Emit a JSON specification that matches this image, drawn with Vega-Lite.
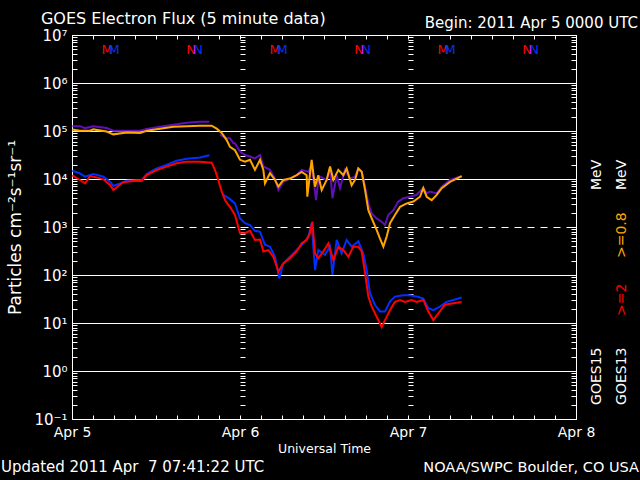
{
  "$schema": "https://vega.github.io/schema/vega-lite/v6.json",
  "width": 504,
  "height": 384,
  "autosize": {"type": "none"},
  "padding": {"left": 72, "top": 35, "right": 64, "bottom": 61},
  "background": "black",
  "config": {
    "view": {"stroke": null},
    "font": "DejaVu Sans",
    "axis": {
      "domainColor": "white", "tickColor": "white", "labelColor": "white", "titleColor": "white",
      "gridColor": "white", "labelFont": "DejaVu Sans", "titleFont": "DejaVu Sans",
      "titleFontWeight": "normal", "domainWidth": 1, "tickWidth": 1
    }
  },
  "resolve": {"axis": {"x": "independent", "y": "independent"}, "scale": {"color": "independent"}},
  "datasets": {
    "flux": [
      {"time": "2011-04-05T00:03Z", "series": "GOES15 >=0.8 MeV", "flux": 126000},
      {"time": "2011-04-05T01:08Z", "series": "GOES15 >=0.8 MeV", "flux": 126000},
      {"time": "2011-04-05T01:52Z", "series": "GOES15 >=0.8 MeV", "flux": 115000},
      {"time": "2011-04-05T03:03Z", "series": "GOES15 >=0.8 MeV", "flux": 126000},
      {"time": "2011-04-05T04:57Z", "series": "GOES15 >=0.8 MeV", "flux": 115000},
      {"time": "2011-04-05T05:54Z", "series": "GOES15 >=0.8 MeV", "flux": 101000},
      {"time": "2011-04-05T07:49Z", "series": "GOES15 >=0.8 MeV", "flux": 101000},
      {"time": "2011-04-05T09:43Z", "series": "GOES15 >=0.8 MeV", "flux": 101000},
      {"time": "2011-04-05T10:40Z", "series": "GOES15 >=0.8 MeV", "flux": 110000},
      {"time": "2011-04-05T12:34Z", "series": "GOES15 >=0.8 MeV", "flux": 123000},
      {"time": "2011-04-05T14:29Z", "series": "GOES15 >=0.8 MeV", "flux": 135000},
      {"time": "2011-04-05T16:23Z", "series": "GOES15 >=0.8 MeV", "flux": 148000},
      {"time": "2011-04-05T18:17Z", "series": "GOES15 >=0.8 MeV", "flux": 155000},
      {"time": "2011-04-05T19:37Z", "series": "GOES15 >=0.8 MeV", "flux": 155000},
      {"time": "2011-04-05T20:26Z", "series": "GOES15 >=0.8 MeV", "flux": null},
      {"time": "2011-04-05T21:08Z", "series": "GOES15 >=0.8 MeV", "flux": 83200},
      {"time": "2011-04-05T22:06Z", "series": "GOES15 >=0.8 MeV", "flux": 70800},
      {"time": "2011-04-05T22:34Z", "series": "GOES15 >=0.8 MeV", "flux": 70800},
      {"time": "2011-04-05T23:03Z", "series": "GOES15 >=0.8 MeV", "flux": 56200},
      {"time": "2011-04-05T23:17Z", "series": "GOES15 >=0.8 MeV", "flux": 55000},
      {"time": "2011-04-06T00:00Z", "series": "GOES15 >=0.8 MeV", "flux": 37200},
      {"time": "2011-04-06T00:43Z", "series": "GOES15 >=0.8 MeV", "flux": 31600},
      {"time": "2011-04-06T01:26Z", "series": "GOES15 >=0.8 MeV", "flux": 29500},
      {"time": "2011-04-06T02:08Z", "series": "GOES15 >=0.8 MeV", "flux": 26900},
      {"time": "2011-04-06T02:52Z", "series": "GOES15 >=0.8 MeV", "flux": 31600},
      {"time": "2011-04-06T03:20Z", "series": "GOES15 >=0.8 MeV", "flux": 18200},
      {"time": "2011-04-06T04:17Z", "series": "GOES15 >=0.8 MeV", "flux": 15500},
      {"time": "2011-04-06T05:00Z", "series": "GOES15 >=0.8 MeV", "flux": 10200},
      {"time": "2011-04-06T05:29Z", "series": "GOES15 >=0.8 MeV", "flux": 5890},
      {"time": "2011-04-06T06:11Z", "series": "GOES15 >=0.8 MeV", "flux": 8710},
      {"time": "2011-04-06T07:08Z", "series": "GOES15 >=0.8 MeV", "flux": 10200},
      {"time": "2011-04-06T08:06Z", "series": "GOES15 >=0.8 MeV", "flux": 12000},
      {"time": "2011-04-06T08:49Z", "series": "GOES15 >=0.8 MeV", "flux": 15500},
      {"time": "2011-04-06T09:46Z", "series": "GOES15 >=0.8 MeV", "flux": 14100},
      {"time": "2011-04-06T10:14Z", "series": "GOES15 >=0.8 MeV", "flux": 20000},
      {"time": "2011-04-06T10:52Z", "series": "GOES15 >=0.8 MeV", "flux": 3630},
      {"time": "2011-04-06T11:11Z", "series": "GOES15 >=0.8 MeV", "flux": 9550},
      {"time": "2011-04-06T11:26Z", "series": "GOES15 >=0.8 MeV", "flux": 11200},
      {"time": "2011-04-06T12:23Z", "series": "GOES15 >=0.8 MeV", "flux": 9550},
      {"time": "2011-04-06T12:52Z", "series": "GOES15 >=0.8 MeV", "flux": 16600},
      {"time": "2011-04-06T13:12Z", "series": "GOES15 >=0.8 MeV", "flux": 3980},
      {"time": "2011-04-06T13:49Z", "series": "GOES15 >=0.8 MeV", "flux": 12000},
      {"time": "2011-04-06T14:17Z", "series": "GOES15 >=0.8 MeV", "flux": 6460},
      {"time": "2011-04-06T15:00Z", "series": "GOES15 >=0.8 MeV", "flux": 15500},
      {"time": "2011-04-06T15:43Z", "series": "GOES15 >=0.8 MeV", "flux": 10200},
      {"time": "2011-04-06T16:26Z", "series": "GOES15 >=0.8 MeV", "flux": 11200},
      {"time": "2011-04-06T16:54Z", "series": "GOES15 >=0.8 MeV", "flux": 16600},
      {"time": "2011-04-06T17:23Z", "series": "GOES15 >=0.8 MeV", "flux": 14100},
      {"time": "2011-04-06T17:52Z", "series": "GOES15 >=0.8 MeV", "flux": 6920},
      {"time": "2011-04-06T18:20Z", "series": "GOES15 >=0.8 MeV", "flux": 3090},
      {"time": "2011-04-06T18:49Z", "series": "GOES15 >=0.8 MeV", "flux": 1910},
      {"time": "2011-04-06T19:31Z", "series": "GOES15 >=0.8 MeV", "flux": 1510},
      {"time": "2011-04-06T20:14Z", "series": "GOES15 >=0.8 MeV", "flux": 1290},
      {"time": "2011-04-06T20:43Z", "series": "GOES15 >=0.8 MeV", "flux": 1100},
      {"time": "2011-04-06T21:11Z", "series": "GOES15 >=0.8 MeV", "flux": 1780},
      {"time": "2011-04-06T21:54Z", "series": "GOES15 >=0.8 MeV", "flux": 2240},
      {"time": "2011-04-06T22:37Z", "series": "GOES15 >=0.8 MeV", "flux": 3390},
      {"time": "2011-04-06T23:20Z", "series": "GOES15 >=0.8 MeV", "flux": 3980},
      {"time": "2011-04-07T00:17Z", "series": "GOES15 >=0.8 MeV", "flux": 4270},
      {"time": "2011-04-07T01:14Z", "series": "GOES15 >=0.8 MeV", "flux": 4680},
      {"time": "2011-04-07T02:11Z", "series": "GOES15 >=0.8 MeV", "flux": 6460},
      {"time": "2011-04-07T02:40Z", "series": "GOES15 >=0.8 MeV", "flux": 5010},
      {"time": "2011-04-07T03:08Z", "series": "GOES15 >=0.8 MeV", "flux": 5500},
      {"time": "2011-04-07T04:06Z", "series": "GOES15 >=0.8 MeV", "flux": 5010},
      {"time": "2011-04-07T04:49Z", "series": "GOES15 >=0.8 MeV", "flux": 6920},
      {"time": "2011-04-07T06:00Z", "series": "GOES15 >=0.8 MeV", "flux": 9550},
      {"time": "2011-04-07T06:57Z", "series": "GOES15 >=0.8 MeV", "flux": 10700},
      {"time": "2011-04-07T07:40Z", "series": "GOES15 >=0.8 MeV", "flux": 11500},

      {"time": "2011-04-05T00:03Z", "series": "GOES15 >=2 MeV", "flux": 14900},
      {"time": "2011-04-05T01:08Z", "series": "GOES15 >=2 MeV", "flux": 13100},
      {"time": "2011-04-05T01:52Z", "series": "GOES15 >=2 MeV", "flux": 11200},
      {"time": "2011-04-05T03:03Z", "series": "GOES15 >=2 MeV", "flux": 12700},
      {"time": "2011-04-05T04:29Z", "series": "GOES15 >=2 MeV", "flux": 11200},
      {"time": "2011-04-05T05:26Z", "series": "GOES15 >=2 MeV", "flux": 8790},
      {"time": "2011-04-05T05:54Z", "series": "GOES15 >=2 MeV", "flux": 7140},
      {"time": "2011-04-05T06:52Z", "series": "GOES15 >=2 MeV", "flux": 8130},
      {"time": "2011-04-05T07:49Z", "series": "GOES15 >=2 MeV", "flux": 9230},
      {"time": "2011-04-05T09:57Z", "series": "GOES15 >=2 MeV", "flux": 9530},
      {"time": "2011-04-05T10:40Z", "series": "GOES15 >=2 MeV", "flux": 12700},
      {"time": "2011-04-05T12:06Z", "series": "GOES15 >=2 MeV", "flux": 16700},
      {"time": "2011-04-05T13:31Z", "series": "GOES15 >=2 MeV", "flux": 19600},
      {"time": "2011-04-05T14:57Z", "series": "GOES15 >=2 MeV", "flux": 24100},
      {"time": "2011-04-05T16:23Z", "series": "GOES15 >=2 MeV", "flux": 26500},
      {"time": "2011-04-05T18:17Z", "series": "GOES15 >=2 MeV", "flux": 28200},
      {"time": "2011-04-05T19:37Z", "series": "GOES15 >=2 MeV", "flux": 31100},
      {"time": "2011-04-05T20:26Z", "series": "GOES15 >=2 MeV", "flux": null},
      {"time": "2011-04-05T21:37Z", "series": "GOES15 >=2 MeV", "flux": 4650},
      {"time": "2011-04-05T22:34Z", "series": "GOES15 >=2 MeV", "flux": 3800},
      {"time": "2011-04-05T23:17Z", "series": "GOES15 >=2 MeV", "flux": 3090},
      {"time": "2011-04-06T00:00Z", "series": "GOES15 >=2 MeV", "flux": 1510},
      {"time": "2011-04-06T00:43Z", "series": "GOES15 >=2 MeV", "flux": 1200},
      {"time": "2011-04-06T01:26Z", "series": "GOES15 >=2 MeV", "flux": 1100},
      {"time": "2011-04-06T02:08Z", "series": "GOES15 >=2 MeV", "flux": 832},
      {"time": "2011-04-06T02:52Z", "series": "GOES15 >=2 MeV", "flux": 794},
      {"time": "2011-04-06T03:34Z", "series": "GOES15 >=2 MeV", "flux": 427},
      {"time": "2011-04-06T04:17Z", "series": "GOES15 >=2 MeV", "flux": 389},
      {"time": "2011-04-06T05:00Z", "series": "GOES15 >=2 MeV", "flux": 240},
      {"time": "2011-04-06T05:37Z", "series": "GOES15 >=2 MeV", "flux": 85},
      {"time": "2011-04-06T06:11Z", "series": "GOES15 >=2 MeV", "flux": 174},
      {"time": "2011-04-06T07:08Z", "series": "GOES15 >=2 MeV", "flux": 240},
      {"time": "2011-04-06T08:06Z", "series": "GOES15 >=2 MeV", "flux": 331},
      {"time": "2011-04-06T09:03Z", "series": "GOES15 >=2 MeV", "flux": 457},
      {"time": "2011-04-06T09:46Z", "series": "GOES15 >=2 MeV", "flux": 631},
      {"time": "2011-04-06T10:14Z", "series": "GOES15 >=2 MeV", "flux": 1200},
      {"time": "2011-04-06T10:43Z", "series": "GOES15 >=2 MeV", "flux": 126},
      {"time": "2011-04-06T11:11Z", "series": "GOES15 >=2 MeV", "flux": 331},
      {"time": "2011-04-06T12:08Z", "series": "GOES15 >=2 MeV", "flux": 263},
      {"time": "2011-04-06T12:52Z", "series": "GOES15 >=2 MeV", "flux": 389},
      {"time": "2011-04-06T13:12Z", "series": "GOES15 >=2 MeV", "flux": 100},
      {"time": "2011-04-06T13:49Z", "series": "GOES15 >=2 MeV", "flux": 537},
      {"time": "2011-04-06T14:31Z", "series": "GOES15 >=2 MeV", "flux": 282},
      {"time": "2011-04-06T15:14Z", "series": "GOES15 >=2 MeV", "flux": 537},
      {"time": "2011-04-06T15:57Z", "series": "GOES15 >=2 MeV", "flux": 389},
      {"time": "2011-04-06T16:54Z", "series": "GOES15 >=2 MeV", "flux": 501},
      {"time": "2011-04-06T17:37Z", "series": "GOES15 >=2 MeV", "flux": 282},
      {"time": "2011-04-06T18:06Z", "series": "GOES15 >=2 MeV", "flux": 126},
      {"time": "2011-04-06T18:34Z", "series": "GOES15 >=2 MeV", "flux": 41.7},
      {"time": "2011-04-06T19:17Z", "series": "GOES15 >=2 MeV", "flux": 23.7},
      {"time": "2011-04-06T20:00Z", "series": "GOES15 >=2 MeV", "flux": 17.4},
      {"time": "2011-04-06T20:43Z", "series": "GOES15 >=2 MeV", "flux": 17.4},
      {"time": "2011-04-06T21:26Z", "series": "GOES15 >=2 MeV", "flux": 28.2},
      {"time": "2011-04-06T22:08Z", "series": "GOES15 >=2 MeV", "flux": 35.5},
      {"time": "2011-04-06T23:20Z", "series": "GOES15 >=2 MeV", "flux": 38},
      {"time": "2011-04-07T00:17Z", "series": "GOES15 >=2 MeV", "flux": 38},
      {"time": "2011-04-07T01:14Z", "series": "GOES15 >=2 MeV", "flux": 35.5},
      {"time": "2011-04-07T02:11Z", "series": "GOES15 >=2 MeV", "flux": 32.4},
      {"time": "2011-04-07T02:54Z", "series": "GOES15 >=2 MeV", "flux": 20.4},
      {"time": "2011-04-07T03:37Z", "series": "GOES15 >=2 MeV", "flux": 18.6},
      {"time": "2011-04-07T04:34Z", "series": "GOES15 >=2 MeV", "flux": 21.9},
      {"time": "2011-04-07T05:31Z", "series": "GOES15 >=2 MeV", "flux": 27.5},
      {"time": "2011-04-07T06:29Z", "series": "GOES15 >=2 MeV", "flux": 30.2},
      {"time": "2011-04-07T07:40Z", "series": "GOES15 >=2 MeV", "flux": 33.9},

      {"time": "2011-04-05T00:03Z", "series": "GOES13 >=0.8 MeV", "flux": 108000},
      {"time": "2011-04-05T01:08Z", "series": "GOES13 >=0.8 MeV", "flux": 101000},
      {"time": "2011-04-05T02:34Z", "series": "GOES13 >=0.8 MeV", "flux": 101000},
      {"time": "2011-04-05T03:03Z", "series": "GOES13 >=0.8 MeV", "flux": 108000},
      {"time": "2011-04-05T04:57Z", "series": "GOES13 >=0.8 MeV", "flux": 97700},
      {"time": "2011-04-05T05:54Z", "series": "GOES13 >=0.8 MeV", "flux": 85100},
      {"time": "2011-04-05T07:49Z", "series": "GOES13 >=0.8 MeV", "flux": 93300},
      {"time": "2011-04-05T09:43Z", "series": "GOES13 >=0.8 MeV", "flux": 91200},
      {"time": "2011-04-05T10:40Z", "series": "GOES13 >=0.8 MeV", "flux": 101000},
      {"time": "2011-04-05T12:34Z", "series": "GOES13 >=0.8 MeV", "flux": 112000},
      {"time": "2011-04-05T14:29Z", "series": "GOES13 >=0.8 MeV", "flux": 123000},
      {"time": "2011-04-05T16:23Z", "series": "GOES13 >=0.8 MeV", "flux": 126000},
      {"time": "2011-04-05T18:17Z", "series": "GOES13 >=0.8 MeV", "flux": 129000},
      {"time": "2011-04-05T19:57Z", "series": "GOES13 >=0.8 MeV", "flux": 129000},
      {"time": "2011-04-05T20:40Z", "series": "GOES13 >=0.8 MeV", "flux": 112000},
      {"time": "2011-04-05T21:23Z", "series": "GOES13 >=0.8 MeV", "flux": 91200},
      {"time": "2011-04-05T22:06Z", "series": "GOES13 >=0.8 MeV", "flux": 64600},
      {"time": "2011-04-05T22:34Z", "series": "GOES13 >=0.8 MeV", "flux": 46800},
      {"time": "2011-04-05T23:17Z", "series": "GOES13 >=0.8 MeV", "flux": 39800},
      {"time": "2011-04-06T00:00Z", "series": "GOES13 >=0.8 MeV", "flux": 25100},
      {"time": "2011-04-06T00:43Z", "series": "GOES13 >=0.8 MeV", "flux": 22900},
      {"time": "2011-04-06T01:26Z", "series": "GOES13 >=0.8 MeV", "flux": 25100},
      {"time": "2011-04-06T02:08Z", "series": "GOES13 >=0.8 MeV", "flux": 15500},
      {"time": "2011-04-06T02:52Z", "series": "GOES13 >=0.8 MeV", "flux": 25100},
      {"time": "2011-04-06T03:20Z", "series": "GOES13 >=0.8 MeV", "flux": 15500},
      {"time": "2011-04-06T03:34Z", "series": "GOES13 >=0.8 MeV", "flux": 8130},
      {"time": "2011-04-06T04:17Z", "series": "GOES13 >=0.8 MeV", "flux": 13200},
      {"time": "2011-04-06T05:00Z", "series": "GOES13 >=0.8 MeV", "flux": 9550},
      {"time": "2011-04-06T05:29Z", "series": "GOES13 >=0.8 MeV", "flux": 6920},
      {"time": "2011-04-06T06:11Z", "series": "GOES13 >=0.8 MeV", "flux": 9550},
      {"time": "2011-04-06T07:08Z", "series": "GOES13 >=0.8 MeV", "flux": 10200},
      {"time": "2011-04-06T08:06Z", "series": "GOES13 >=0.8 MeV", "flux": 12000},
      {"time": "2011-04-06T08:49Z", "series": "GOES13 >=0.8 MeV", "flux": 14100},
      {"time": "2011-04-06T09:31Z", "series": "GOES13 >=0.8 MeV", "flux": 12000},
      {"time": "2011-04-06T09:37Z", "series": "GOES13 >=0.8 MeV", "flux": 4270},
      {"time": "2011-04-06T10:14Z", "series": "GOES13 >=0.8 MeV", "flux": 25100},
      {"time": "2011-04-06T10:43Z", "series": "GOES13 >=0.8 MeV", "flux": 6920},
      {"time": "2011-04-06T11:11Z", "series": "GOES13 >=0.8 MeV", "flux": 12000},
      {"time": "2011-04-06T11:40Z", "series": "GOES13 >=0.8 MeV", "flux": 5890},
      {"time": "2011-04-06T12:23Z", "series": "GOES13 >=0.8 MeV", "flux": 9550},
      {"time": "2011-04-06T12:52Z", "series": "GOES13 >=0.8 MeV", "flux": 18200},
      {"time": "2011-04-06T13:20Z", "series": "GOES13 >=0.8 MeV", "flux": 9550},
      {"time": "2011-04-06T14:03Z", "series": "GOES13 >=0.8 MeV", "flux": 15500},
      {"time": "2011-04-06T14:46Z", "series": "GOES13 >=0.8 MeV", "flux": 12000},
      {"time": "2011-04-06T15:14Z", "series": "GOES13 >=0.8 MeV", "flux": 16600},
      {"time": "2011-04-06T15:57Z", "series": "GOES13 >=0.8 MeV", "flux": 7410},
      {"time": "2011-04-06T16:26Z", "series": "GOES13 >=0.8 MeV", "flux": 9550},
      {"time": "2011-04-06T16:54Z", "series": "GOES13 >=0.8 MeV", "flux": 16600},
      {"time": "2011-04-06T17:23Z", "series": "GOES13 >=0.8 MeV", "flux": 14100},
      {"time": "2011-04-06T17:52Z", "series": "GOES13 >=0.8 MeV", "flux": 5890},
      {"time": "2011-04-06T18:20Z", "series": "GOES13 >=0.8 MeV", "flux": 2240},
      {"time": "2011-04-06T18:49Z", "series": "GOES13 >=0.8 MeV", "flux": 1510},
      {"time": "2011-04-06T19:31Z", "series": "GOES13 >=0.8 MeV", "flux": 871},
      {"time": "2011-04-06T20:00Z", "series": "GOES13 >=0.8 MeV", "flux": 575},
      {"time": "2011-04-06T20:29Z", "series": "GOES13 >=0.8 MeV", "flux": 389},
      {"time": "2011-04-06T20:57Z", "series": "GOES13 >=0.8 MeV", "flux": 631},
      {"time": "2011-04-06T21:26Z", "series": "GOES13 >=0.8 MeV", "flux": 1200},
      {"time": "2011-04-06T22:08Z", "series": "GOES13 >=0.8 MeV", "flux": 1780},
      {"time": "2011-04-06T22:52Z", "series": "GOES13 >=0.8 MeV", "flux": 2630},
      {"time": "2011-04-06T23:49Z", "series": "GOES13 >=0.8 MeV", "flux": 3090},
      {"time": "2011-04-07T00:46Z", "series": "GOES13 >=0.8 MeV", "flux": 3390},
      {"time": "2011-04-07T01:43Z", "series": "GOES13 >=0.8 MeV", "flux": 4270},
      {"time": "2011-04-07T02:11Z", "series": "GOES13 >=0.8 MeV", "flux": 6460},
      {"time": "2011-04-07T02:40Z", "series": "GOES13 >=0.8 MeV", "flux": 4270},
      {"time": "2011-04-07T03:23Z", "series": "GOES13 >=0.8 MeV", "flux": 3630},
      {"time": "2011-04-07T04:06Z", "series": "GOES13 >=0.8 MeV", "flux": 4680},
      {"time": "2011-04-07T04:49Z", "series": "GOES13 >=0.8 MeV", "flux": 6460},
      {"time": "2011-04-07T06:00Z", "series": "GOES13 >=0.8 MeV", "flux": 8710},
      {"time": "2011-04-07T06:57Z", "series": "GOES13 >=0.8 MeV", "flux": 10200},
      {"time": "2011-04-07T07:40Z", "series": "GOES13 >=0.8 MeV", "flux": 11500},

      {"time": "2011-04-05T00:03Z", "series": "GOES13 >=2 MeV", "flux": 11900},
      {"time": "2011-04-05T01:08Z", "series": "GOES13 >=2 MeV", "flux": 9530},
      {"time": "2011-04-05T01:52Z", "series": "GOES13 >=2 MeV", "flux": 8130},
      {"time": "2011-04-05T02:34Z", "series": "GOES13 >=2 MeV", "flux": 11500},
      {"time": "2011-04-05T03:31Z", "series": "GOES13 >=2 MeV", "flux": 10800},
      {"time": "2011-04-05T04:29Z", "series": "GOES13 >=2 MeV", "flux": 9840},
      {"time": "2011-04-05T05:26Z", "series": "GOES13 >=2 MeV", "flux": 7500},
      {"time": "2011-04-05T05:54Z", "series": "GOES13 >=2 MeV", "flux": 5900},
      {"time": "2011-04-05T06:37Z", "series": "GOES13 >=2 MeV", "flux": 7140},
      {"time": "2011-04-05T07:20Z", "series": "GOES13 >=2 MeV", "flux": 8530},
      {"time": "2011-04-05T08:46Z", "series": "GOES13 >=2 MeV", "flux": 9080},
      {"time": "2011-04-05T09:57Z", "series": "GOES13 >=2 MeV", "flux": 9080},
      {"time": "2011-04-05T10:40Z", "series": "GOES13 >=2 MeV", "flux": 12100},
      {"time": "2011-04-05T12:06Z", "series": "GOES13 >=2 MeV", "flux": 15400},
      {"time": "2011-04-05T13:31Z", "series": "GOES13 >=2 MeV", "flux": 18100},
      {"time": "2011-04-05T14:57Z", "series": "GOES13 >=2 MeV", "flux": 21200},
      {"time": "2011-04-05T16:23Z", "series": "GOES13 >=2 MeV", "flux": 23000},
      {"time": "2011-04-05T18:17Z", "series": "GOES13 >=2 MeV", "flux": 23000},
      {"time": "2011-04-05T19:57Z", "series": "GOES13 >=2 MeV", "flux": 21900},
      {"time": "2011-04-05T20:26Z", "series": "GOES13 >=2 MeV", "flux": 15400},
      {"time": "2011-04-05T20:54Z", "series": "GOES13 >=2 MeV", "flux": 9530},
      {"time": "2011-04-05T21:23Z", "series": "GOES13 >=2 MeV", "flux": 5450},
      {"time": "2011-04-05T21:52Z", "series": "GOES13 >=2 MeV", "flux": 3650},
      {"time": "2011-04-05T22:20Z", "series": "GOES13 >=2 MeV", "flux": 2870},
      {"time": "2011-04-05T22:34Z", "series": "GOES13 >=2 MeV", "flux": 2630},
      {"time": "2011-04-05T23:17Z", "series": "GOES13 >=2 MeV", "flux": 1780},
      {"time": "2011-04-06T00:00Z", "series": "GOES13 >=2 MeV", "flux": 741},
      {"time": "2011-04-06T00:43Z", "series": "GOES13 >=2 MeV", "flux": 741},
      {"time": "2011-04-06T01:26Z", "series": "GOES13 >=2 MeV", "flux": 832},
      {"time": "2011-04-06T02:08Z", "series": "GOES13 >=2 MeV", "flux": 537},
      {"time": "2011-04-06T02:52Z", "series": "GOES13 >=2 MeV", "flux": 550},
      {"time": "2011-04-06T03:20Z", "series": "GOES13 >=2 MeV", "flux": 309},
      {"time": "2011-04-06T04:03Z", "series": "GOES13 >=2 MeV", "flux": 331},
      {"time": "2011-04-06T04:46Z", "series": "GOES13 >=2 MeV", "flux": 240},
      {"time": "2011-04-06T05:29Z", "series": "GOES13 >=2 MeV", "flux": 117},
      {"time": "2011-04-06T06:11Z", "series": "GOES13 >=2 MeV", "flux": 174},
      {"time": "2011-04-06T07:08Z", "series": "GOES13 >=2 MeV", "flux": 224},
      {"time": "2011-04-06T08:06Z", "series": "GOES13 >=2 MeV", "flux": 309},
      {"time": "2011-04-06T08:49Z", "series": "GOES13 >=2 MeV", "flux": 457},
      {"time": "2011-04-06T09:31Z", "series": "GOES13 >=2 MeV", "flux": 537},
      {"time": "2011-04-06T10:00Z", "series": "GOES13 >=2 MeV", "flux": 741},
      {"time": "2011-04-06T10:20Z", "series": "GOES13 >=2 MeV", "flux": 1290},
      {"time": "2011-04-06T10:43Z", "series": "GOES13 >=2 MeV", "flux": 282},
      {"time": "2011-04-06T11:11Z", "series": "GOES13 >=2 MeV", "flux": 224},
      {"time": "2011-04-06T11:54Z", "series": "GOES13 >=2 MeV", "flux": 309},
      {"time": "2011-04-06T12:37Z", "series": "GOES13 >=2 MeV", "flux": 457},
      {"time": "2011-04-06T13:20Z", "series": "GOES13 >=2 MeV", "flux": 204},
      {"time": "2011-04-06T14:03Z", "series": "GOES13 >=2 MeV", "flux": 389},
      {"time": "2011-04-06T14:46Z", "series": "GOES13 >=2 MeV", "flux": 331},
      {"time": "2011-04-06T15:29Z", "series": "GOES13 >=2 MeV", "flux": 240},
      {"time": "2011-04-06T16:11Z", "series": "GOES13 >=2 MeV", "flux": 389},
      {"time": "2011-04-06T16:54Z", "series": "GOES13 >=2 MeV", "flux": 389},
      {"time": "2011-04-06T17:23Z", "series": "GOES13 >=2 MeV", "flux": 309},
      {"time": "2011-04-06T17:52Z", "series": "GOES13 >=2 MeV", "flux": 110},
      {"time": "2011-04-06T18:20Z", "series": "GOES13 >=2 MeV", "flux": 35.5},
      {"time": "2011-04-06T18:49Z", "series": "GOES13 >=2 MeV", "flux": 21.9},
      {"time": "2011-04-06T19:31Z", "series": "GOES13 >=2 MeV", "flux": 13.5},
      {"time": "2011-04-06T20:14Z", "series": "GOES13 >=2 MeV", "flux": 8.3},
      {"time": "2011-04-06T20:43Z", "series": "GOES13 >=2 MeV", "flux": 11.5},
      {"time": "2011-04-06T21:26Z", "series": "GOES13 >=2 MeV", "flux": 18.6},
      {"time": "2011-04-06T22:08Z", "series": "GOES13 >=2 MeV", "flux": 27.5},
      {"time": "2011-04-06T22:52Z", "series": "GOES13 >=2 MeV", "flux": 30.2},
      {"time": "2011-04-06T23:34Z", "series": "GOES13 >=2 MeV", "flux": 27.5},
      {"time": "2011-04-07T00:31Z", "series": "GOES13 >=2 MeV", "flux": 30.2},
      {"time": "2011-04-07T01:14Z", "series": "GOES13 >=2 MeV", "flux": 27.5},
      {"time": "2011-04-07T02:11Z", "series": "GOES13 >=2 MeV", "flux": 30.2},
      {"time": "2011-04-07T02:54Z", "series": "GOES13 >=2 MeV", "flux": 17.4},
      {"time": "2011-04-07T03:37Z", "series": "GOES13 >=2 MeV", "flux": 11.5},
      {"time": "2011-04-07T04:20Z", "series": "GOES13 >=2 MeV", "flux": 15.8},
      {"time": "2011-04-07T05:17Z", "series": "GOES13 >=2 MeV", "flux": 24},
      {"time": "2011-04-07T06:29Z", "series": "GOES13 >=2 MeV", "flux": 25.7},
      {"time": "2011-04-07T07:40Z", "series": "GOES13 >=2 MeV", "flux": 27.5}
    ],
    "markers": [
      {"time": "2011-04-05T05:00Z", "label": "M", "satellite": "GOES13"},
      {"time": "2011-04-05T06:00Z", "label": "M", "satellite": "GOES15"},
      {"time": "2011-04-05T17:00Z", "label": "N", "satellite": "GOES13"},
      {"time": "2011-04-05T18:00Z", "label": "N", "satellite": "GOES15"},
      {"time": "2011-04-06T05:00Z", "label": "M", "satellite": "GOES13"},
      {"time": "2011-04-06T06:00Z", "label": "M", "satellite": "GOES15"},
      {"time": "2011-04-06T17:00Z", "label": "N", "satellite": "GOES13"},
      {"time": "2011-04-06T18:00Z", "label": "N", "satellite": "GOES15"},
      {"time": "2011-04-07T05:00Z", "label": "M", "satellite": "GOES13"},
      {"time": "2011-04-07T06:00Z", "label": "M", "satellite": "GOES15"},
      {"time": "2011-04-07T17:00Z", "label": "N", "satellite": "GOES13"},
      {"time": "2011-04-07T18:00Z", "label": "N", "satellite": "GOES15"}
    ]
  },
  "layer": [
    {
      "data": {"name": "flux"},
      "mark": {"type": "line", "strokeWidth": 2, "invalid": "break-paths-show-domains"},
      "encoding": {
        "x": {
          "field": "time", "type": "temporal",
          "scale": {"type": "utc", "nice": false, "domain": [{"year": 2011, "month": 4, "date": 5, "utc": true}, {"year": 2011, "month": 4, "date": 8, "utc": true}]},
          "axis": {
            "orient": "bottom", "tickCount": 24, "ticks": false,
            "labelExpr": "utchours(datum.value) == 0 ? utcFormat(datum.value, '%b %-d') : ''",
            "labelFontSize": 14, "labelPadding": 6, "labelFlush": false, "labelOverlap": false,
            "grid": false, "domain": true, "title": "Universal Time", "titleFontSize": 12.5, "titlePadding": 3
          }
        },
        "y": {
          "field": "flux", "type": "quantitative",
          "scale": {"type": "log", "domain": [0.1, 10000000], "nice": false},
          "axis": {
            "orient": "left", "tickCount": 20, "ticks": false,
            "labelExpr": "abs(log(datum.value)/LN10 - round(log(datum.value)/LN10)) < 0.001 ? (datum.value < 0.5 ? '10⁻¹' : datum.value < 5 ? '10⁰' : datum.value < 50 ? '10¹' : datum.value < 500 ? '10²' : datum.value < 5000 ? '10³' : datum.value < 50000 ? '10⁴' : datum.value < 500000 ? '10⁵' : datum.value < 5000000 ? '10⁶' : '10⁷') : ''",
            "labelFontSize": 15, "labelPadding": 5, "labelOverlap": false, "labelFlush": false, "labelBaseline": "middle",
            "grid": true, "gridWidth": 1,
            "gridOpacity": {"condition": {"test": "abs(log(datum.value)/LN10 - round(log(datum.value)/LN10)) < 0.001", "value": 1}, "value": 0},
            "gridDash": {"condition": {"test": "abs(datum.value - 1000) < 1", "value": [7, 6]}, "value": []},
            "domain": true, "title": "Particles cm⁻²s⁻¹sr⁻¹", "titleFontSize": 17, "titlePadding": 9
          }
        },
        "color": {
          "field": "series", "type": "nominal", "legend": null,
          "scale": {"domain": ["GOES15 >=0.8 MeV", "GOES15 >=2 MeV", "GOES13 >=0.8 MeV", "GOES13 >=2 MeV"], "range": ["#6010b8", "#0030ff", "#ffa500", "#ff0000"]}
        }
      }
    },
    {
      "data": {"name": "markers"},
      "mark": {"type": "text", "fontSize": 13, "align": "center", "baseline": "middle"},
      "encoding": {
        "x": {
          "field": "time", "type": "temporal",
          "scale": {"type": "utc", "nice": false, "domain": [{"year": 2011, "month": 4, "date": 5, "utc": true}, {"year": 2011, "month": 4, "date": 8, "utc": true}]},
          "axis": {"orient": "bottom", "offset": -384, "tickCount": 24, "tickSize": 4, "labels": false, "grid": false, "domain": true, "title": null}
        },
        "y": {
          "datum": 4800000, "type": "quantitative",
          "scale": {"type": "log", "domain": [0.1, 10000000], "nice": false},
          "axis": {"orient": "left", "offset": -504, "tickCount": 20, "tickSize": 5, "labels": false, "grid": false, "domain": true, "title": null}
        },
        "text": {"field": "label"},
        "color": {"field": "satellite", "type": "nominal", "legend": null, "scale": {"domain": ["GOES13", "GOES15"], "range": ["#ff0000", "#0030ff"]}}
      }
    },
    {
      "data": {"values": [{"label": "GOES Electron Flux (5 minute data)"}]},
      "mark": {"type": "text", "fontSize": 16, "align": "left", "baseline": "alphabetic", "color": "white"},
      "encoding": {
        "x": {"datum": {"year": 2011, "month": 4, "date": 4, "hours": 19, "minutes": 34, "utc": true}, "type": "temporal",
              "scale": {"type": "utc", "nice": false, "domain": [{"year": 2011, "month": 4, "date": 5, "utc": true}, {"year": 2011, "month": 4, "date": 8, "utc": true}]},
              "axis": {"orient": "top", "offset": -384, "tickCount": 24, "tickSize": 4, "labels": false, "grid": false, "domain": false, "title": null}},
        "y": {"datum": 16900000, "type": "quantitative", "scale": {"type": "log", "domain": [0.1, 10000000], "nice": false},
              "axis": {"orient": "right", "offset": -504, "tickCount": 20, "tickSize": 5, "labels": false, "grid": false, "domain": false, "title": null}},
        "text": {"field": "label"}
      }
    },
    {
      "data": {"values": [{"label": "Begin: 2011 Apr 5 0000 UTC"}]},
      "mark": {"type": "text", "fontSize": 15, "align": "right", "baseline": "alphabetic", "color": "white"},
      "encoding": {
        "x": {"datum": {"year": 2011, "month": 4, "date": 8, "hours": 8, "minutes": 51, "utc": true}, "type": "temporal",
              "scale": {"type": "utc", "nice": false, "domain": [{"year": 2011, "month": 4, "date": 5, "utc": true}, {"year": 2011, "month": 4, "date": 8, "utc": true}]}, "axis": null},
        "y": {"datum": 14000000, "type": "quantitative", "scale": {"type": "log", "domain": [0.1, 10000000], "nice": false},
              "axis": {"orient": "right", "offset": -336, "tickCount": 20, "tickSize": 5, "labels": false, "grid": false, "domain": false, "title": null}},
        "text": {"field": "label"}
      }
    },
    {
      "data": {"values": [{"label": "Updated 2011 Apr \u00a07 07:41:22 UTC"}]},
      "mark": {"type": "text", "fontSize": 15, "align": "left", "baseline": "alphabetic", "color": "white"},
      "encoding": {
        "x": {"datum": {"year": 2011, "month": 4, "date": 4, "hours": 13, "minutes": 51, "utc": true}, "type": "temporal",
              "scale": {"type": "utc", "nice": false, "domain": [{"year": 2011, "month": 4, "date": 5, "utc": true}, {"year": 2011, "month": 4, "date": 8, "utc": true}]}, "axis": null},
        "y": {"datum": 0.00787, "type": "quantitative", "scale": {"type": "log", "domain": [0.1, 10000000], "nice": false},
              "axis": {"orient": "right", "offset": -168, "tickCount": 20, "tickSize": 5, "labels": false, "grid": false, "domain": false, "title": null}},
        "text": {"field": "label"}
      }
    },
    {
      "data": {"values": [{"label": "NOAA/SWPC Boulder, CO USA"}]},
      "mark": {"type": "text", "fontSize": 14.5, "align": "right", "baseline": "alphabetic", "color": "white"},
      "encoding": {
        "x": {"datum": {"year": 2011, "month": 4, "date": 8, "hours": 9, "minutes": 0, "utc": true}, "type": "temporal",
              "scale": {"type": "utc", "nice": false, "domain": [{"year": 2011, "month": 4, "date": 5, "utc": true}, {"year": 2011, "month": 4, "date": 8, "utc": true}]}, "axis": null},
        "y": {"datum": 0.00787, "type": "quantitative", "scale": {"type": "log", "domain": [0.1, 10000000], "nice": false}, "axis": null},
        "text": {"field": "label"}
      }
    },
    {
      "data": {"values": [{"label": "GOES15"}]},
      "mark": {"type": "text", "fontSize": 14, "align": "left", "baseline": "middle", "angle": 270, "color": "white"},
      "encoding": {
        "x": {"datum": {"year": 2011, "month": 4, "date": 8, "hours": 3, "minutes": 0, "utc": true}, "type": "temporal",
              "scale": {"type": "utc", "nice": false, "domain": [{"year": 2011, "month": 4, "date": 5, "utc": true}, {"year": 2011, "month": 4, "date": 8, "utc": true}]}, "axis": null},
        "y": {"datum": 0.196, "type": "quantitative", "scale": {"type": "log", "domain": [0.1, 10000000], "nice": false}, "axis": null},
        "text": {"field": "label"}
      }
    },
    {
      "data": {"values": [{"label": "MeV"}]},
      "mark": {"type": "text", "fontSize": 14, "align": "left", "baseline": "middle", "angle": 270, "color": "white"},
      "encoding": {
        "x": {"datum": {"year": 2011, "month": 4, "date": 8, "hours": 3, "minutes": 0, "utc": true}, "type": "temporal",
              "scale": {"type": "utc", "nice": false, "domain": [{"year": 2011, "month": 4, "date": 5, "utc": true}, {"year": 2011, "month": 4, "date": 8, "utc": true}]}, "axis": null},
        "y": {"datum": 5900, "type": "quantitative", "scale": {"type": "log", "domain": [0.1, 10000000], "nice": false}, "axis": null},
        "text": {"field": "label"}
      }
    },
    {
      "data": {"values": [{"label": "GOES13"}]},
      "mark": {"type": "text", "fontSize": 14, "align": "left", "baseline": "middle", "angle": 270, "color": "white"},
      "encoding": {
        "x": {"datum": {"year": 2011, "month": 4, "date": 8, "hours": 6, "minutes": 34, "utc": true}, "type": "temporal",
              "scale": {"type": "utc", "nice": false, "domain": [{"year": 2011, "month": 4, "date": 5, "utc": true}, {"year": 2011, "month": 4, "date": 8, "utc": true}]}, "axis": null},
        "y": {"datum": 0.196, "type": "quantitative", "scale": {"type": "log", "domain": [0.1, 10000000], "nice": false}, "axis": null},
        "text": {"field": "label"}
      }
    },
    {
      "data": {"values": [{"label": ">=2"}]},
      "mark": {"type": "text", "fontSize": 14, "align": "left", "baseline": "middle", "angle": 270, "color": "#ff0000"},
      "encoding": {
        "x": {"datum": {"year": 2011, "month": 4, "date": 8, "hours": 6, "minutes": 34, "utc": true}, "type": "temporal",
              "scale": {"type": "utc", "nice": false, "domain": [{"year": 2011, "month": 4, "date": 5, "utc": true}, {"year": 2011, "month": 4, "date": 8, "utc": true}]}, "axis": null},
        "y": {"datum": 14, "type": "quantitative", "scale": {"type": "log", "domain": [0.1, 10000000], "nice": false}, "axis": null},
        "text": {"field": "label"}
      }
    },
    {
      "data": {"values": [{"label": ">=0.8"}]},
      "mark": {"type": "text", "fontSize": 14, "align": "left", "baseline": "middle", "angle": 270, "color": "#ffa500"},
      "encoding": {
        "x": {"datum": {"year": 2011, "month": 4, "date": 8, "hours": 6, "minutes": 34, "utc": true}, "type": "temporal",
              "scale": {"type": "utc", "nice": false, "domain": [{"year": 2011, "month": 4, "date": 5, "utc": true}, {"year": 2011, "month": 4, "date": 8, "utc": true}]}, "axis": null},
        "y": {"datum": 226, "type": "quantitative", "scale": {"type": "log", "domain": [0.1, 10000000], "nice": false}, "axis": null},
        "text": {"field": "label"}
      }
    },
    {
      "data": {"values": [{"label": "MeV"}]},
      "mark": {"type": "text", "fontSize": 14, "align": "left", "baseline": "middle", "angle": 270, "color": "white"},
      "encoding": {
        "x": {"datum": {"year": 2011, "month": 4, "date": 8, "hours": 6, "minutes": 34, "utc": true}, "type": "temporal",
              "scale": {"type": "utc", "nice": false, "domain": [{"year": 2011, "month": 4, "date": 5, "utc": true}, {"year": 2011, "month": 4, "date": 8, "utc": true}]}, "axis": null},
        "y": {"datum": 5900, "type": "quantitative", "scale": {"type": "log", "domain": [0.1, 10000000], "nice": false}, "axis": null},
        "text": {"field": "label"}
      }
    }
  ]
}
